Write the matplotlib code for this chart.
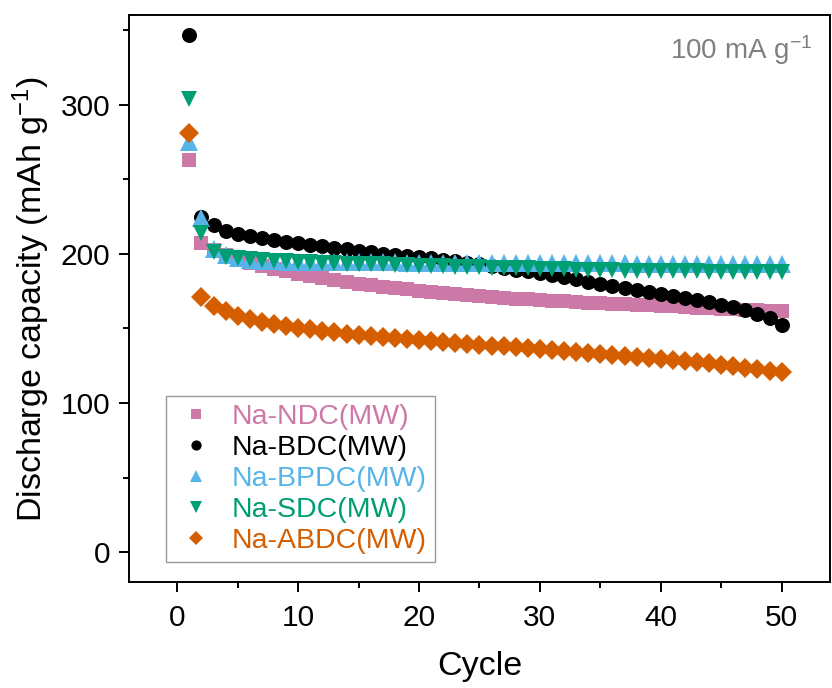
import numpy as np
import matplotlib
matplotlib.use("Agg")
import matplotlib.pyplot as plt

plt.rcParams["font.family"] = ["Liberation Sans", "DejaVu Sans"]
plt.rcParams["mathtext.fontset"] = "custom"
plt.rcParams["mathtext.rm"] = "Liberation Sans"
plt.rcParams["mathtext.it"] = "Liberation Sans:italic"

cycles = np.arange(1, 51)

ndc = [263, 207, 202.5, 199, 196.5, 194, 192, 190, 188.3, 186.8,
       185.3, 183.9, 182.6, 181.3, 180.1, 179, 178, 177, 176.1, 175.2,
       174.4, 173.7, 173, 172.3, 171.7, 171.1, 170.5, 170, 169.5, 169,
       168.5, 168.1, 167.7, 167.3, 166.9, 166.5, 166.1, 165.7, 165.4, 165.0,
       164.7, 164.3, 164.0, 163.6, 163.3, 163.0, 162.6, 162.3, 162.0, 161.6]
bdc = [347, 225, 219, 215.5, 213.5, 211.8, 210.5, 209.3, 208.1, 207,
       206, 205, 204, 203, 202, 201, 200.2, 199.5, 198.7, 198,
       197, 196, 195, 194, 193, 191.8, 190.6, 189.4, 188.2, 187,
       185.6, 184.2, 182.8, 181.4, 180, 178.6, 177.2, 175.8, 174.4, 173,
       171.6, 170.2, 168.8, 167.4, 166, 164.2, 162.2, 159.8, 156.8, 152.5]
bpdc = [275, 224, 203, 199, 197, 196, 195.5, 195, 194.8, 194.6,
        194.5, 194.5, 194.4, 194.4, 194.3, 194.3, 194.2, 194.2, 194.1, 194.1,
        194.0, 194.0, 194.0, 193.9, 193.9, 193.9, 193.8, 193.8, 193.8, 193.7,
        193.7, 193.7, 193.7, 193.6, 193.6, 193.6, 193.6, 193.5, 193.5, 193.5,
        193.5, 193.5, 193.4, 193.4, 193.4, 193.4, 193.4, 193.3, 193.3, 193.3]
sdc = [304, 214, 201, 198, 197, 196.3, 195.8, 195.4, 195.0, 194.5,
       194.2, 193.9, 193.7, 193.5, 193.3, 193.1, 192.9, 192.5, 192.2, 192,
       191.8, 191.6, 191.4, 191.2, 191, 190.8, 190.6, 190.4, 190.2, 190,
       189.8, 189.6, 189.4, 189.2, 189, 188.9, 188.8, 188.7, 188.6, 188.5,
       188.4, 188.3, 188.2, 188.1, 188, 187.9, 187.8, 187.7, 187.6, 187.5]
abdc = [281, 171, 165, 161.5, 158.5, 156.3, 154.5, 153, 151.7, 150.5,
        149.4, 148.4, 147.5, 146.6, 145.8, 145, 144.2, 143.5, 142.8, 142.1,
        141.5, 140.9, 140.3, 139.7, 139.1, 138.5, 137.9, 137.3, 136.7, 136.1,
        135.5, 134.9, 134.3, 133.7, 133.1, 132.5, 131.8, 131.1, 130.4, 129.7,
        129.0, 128.2, 127.4, 126.6, 125.7, 124.8, 123.8, 122.8, 121.7, 120.5]

labels = ["Na-NDC(MW)", "Na-BDC(MW)", "Na-BPDC(MW)", "Na-SDC(MW)", "Na-ABDC(MW)"]
colors = ["#CC79A7", "#000000", "#56B4E9", "#009E73", "#D55E00"]
markers = ["s", "o", "^", "v", "D"]
sizes = [10.3, 10.8, 12.8, 12, 9.8]

fig = plt.figure(figsize=(8.32, 6.88), dpi=100)
ax = fig.add_axes([0.155, 0.154, 0.8426, 0.824])

for y, lab, c, m, s in zip([ndc, bdc, bpdc, sdc, abdc], labels, colors, markers, sizes):
    ax.plot(cycles, y, linestyle="none", marker=m, color=c, markersize=s,
            markeredgewidth=0, label=lab)

ax.set_xlim(-4, 54)
ax.set_ylim(-20, 360)
ax.set_xticks([0, 10, 20, 30, 40, 50])
ax.set_xticks([5, 15, 25, 35, 45], minor=True)
ax.set_yticks([0, 100, 200, 300])
ax.set_yticks([50, 150, 250, 350], minor=True)
ax.tick_params(which="major", direction="out", length=7.5, width=1.4, labelsize=21.5)
ax.tick_params(axis="y", which="major", pad=6)
ax.tick_params(axis="x", which="major", pad=8)
ax.tick_params(which="minor", direction="out", length=4.5, width=1.4)
for sp in ax.spines.values():
    sp.set_linewidth(1.4)

ax.set_xlabel("Cycle", fontsize=24.5, labelpad=14)
ax.set_ylabel("Discharge capacity (mAh g$^{-1}$)", fontsize=24.5, labelpad=6)

ax.text(0.975, 0.968, "100 mA g$^{-1}$", transform=ax.transAxes, ha="right", va="top",
        fontsize=20, color="#808080")

leg = ax.legend(loc="lower left", bbox_to_anchor=(0.053, 0.035), borderaxespad=0,
                fontsize=20.5, markerscale=0.68, fancybox=False, handletextpad=0.5,
                labelspacing=0.17, borderpad=0.3, handlelength=1.5)
leg.get_frame().set_edgecolor("#808080")
leg.get_frame().set_linewidth(1.0)
for t, c in zip(leg.get_texts(), colors):
    t.set_color(c)

fig.savefig("out.png", dpi=100)
